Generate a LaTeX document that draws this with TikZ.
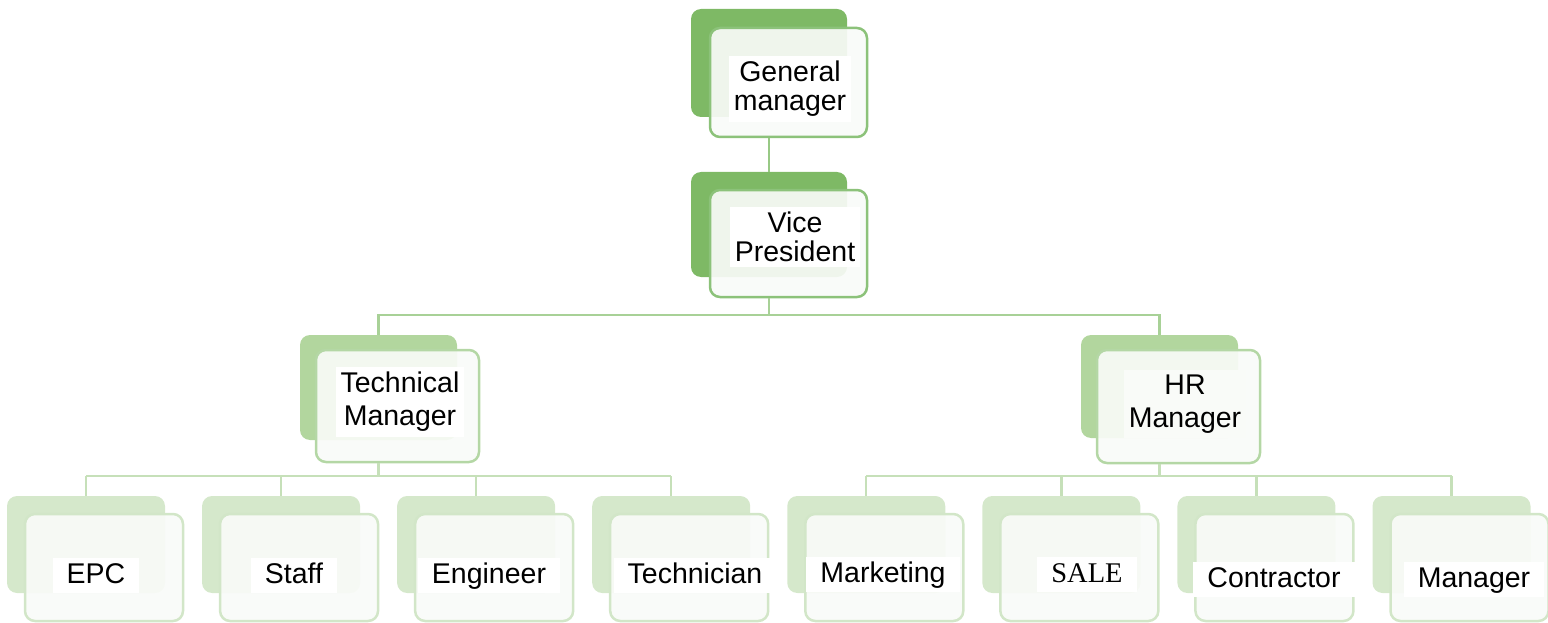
\documentclass[tikz,border=0pt]{standalone}
\usepackage{fontspec}
\setmainfont{Liberation Sans}
\newfontfamily\salefont{Liberation Serif}
\definecolor{backtop}{HTML}{7EB965}
\definecolor{backmid}{HTML}{B2D69E}
\definecolor{backlow}{HTML}{D5E8CB}
\definecolor{edgetop}{HTML}{8CC27A}
\definecolor{edgemid}{HTML}{B4D7A5}
\definecolor{edgelow}{HTML}{D2E6C8}
\definecolor{linktop}{HTML}{98C985}
\definecolor{linkmid}{HTML}{A8D197}
\definecolor{linklow}{HTML}{C6E0B9}
\definecolor{frontfill}{HTML}{F9FBF8}
\begin{document}
\begin{tikzpicture}[x=1pt,y=-1pt,
  backbox/.style={rectangle,rounded corners=10pt,inner sep=0pt,fill=#1},
  frontbox/.style={rectangle,rounded corners=10pt,inner sep=0pt,line width=2.5pt,draw=#1,fill=frontfill,fill opacity=0.92},
  lbl/.style={fill=white,text=black,inner xsep=5pt,inner ysep=5pt,align=center},
  link/.style={draw=#1,line width=2.3pt}]
\useasboundingbox (0,0) rectangle (1548,623);
\pgfmathsetmacro{\pitch}{195.07}
% top two levels
\node[backbox=backtop,minimum width=156pt,minimum height=108pt] (gmk) at (769,63) {};
\node[frontbox=edgetop,minimum width=157pt,minimum height=109pt] (gm) at (788.5,82.5) {};
\node[backbox=backtop,minimum width=156pt,minimum height=105pt] (vpk) at (769,224.5) {};
\node[frontbox=edgetop,minimum width=157pt,minimum height=107pt] (vp) at (788.5,243.5) {};
\node[lbl,font=\fontsize{28.5}{29}\selectfont] (gmt) at (790,89) {General\\manager};
\node[lbl,font=\fontsize{28.5}{29}\selectfont] (vpt) at (795,237) {Vice\\President};
% managers
\node[backbox=backmid,minimum width=157pt,minimum height=105pt] (tmk) at (378.5,387.5) {};
\node[frontbox=edgemid,minimum width=163pt,minimum height=112pt] (tm) at (397.5,406) {};
\node[backbox=backmid,minimum width=157pt,minimum height=103pt] (hrk) at (1159.5,386.5) {};
\node[frontbox=edgemid,minimum width=163pt,minimum height=113pt] (hr) at (1178.5,406.5) {};
\node[lbl,font=\fontsize{28.5}{33}\selectfont] (tmt) at (400,402) {Technical\\Manager};
\node[lbl,font=\fontsize{28.5}{33}\selectfont,fill=frontfill] (hrt) at (1185,404) {HR\\Manager};
% connectors
\coordinate (bus1) at (769,315);
\coordinate (bus2) at (378.5,476);
\coordinate (bus3) at (1159.5,476);
\draw[link=linktop] (gm.south -| gmk.center) -- (vpk.north);
\draw[link=linkmid] (vp.south -| vpk.center) -- (bus1);
\draw[link=linkmid] (tmk.north) |- (bus1) -| (hrk.north);
\draw[link=linklow] (tm.south -| tmk.center) -- (bus2);
\draw[link=linklow] (hr.south -| hrk.center) -- (bus3);
% bottom row
\foreach \i/\txt/\tx/\ty in {0/EPC/96/583,1/Staff/294/583,2/Engineer/489/583,
  3/Technician/695/583,4/Marketing/883/582,5/{\salefont SALE}/1087/582,
  6/Contractor/1274/587,7/Manager/1474/587}{
  \pgfmathsetmacro{\fx}{104+\pitch*\i}
  \draw[link=linklow] (\fx-18,496) -- (\fx-18,476);
  \node[backbox=backlow,minimum width=158pt,minimum height=97pt] (k\i) at (\fx-18,544.5) {};
  \node[frontbox=edgelow,minimum width=158pt,minimum height=107pt] (b\i) at (\fx,567.5) {};
  \node[lbl,anchor=base,text height=21pt,text depth=6pt,inner ysep=4pt,inner xsep=14pt,
    font=\fontsize{28.5}{30}\selectfont] (t\i) at (\tx,\ty) {\txt};
}
\draw[link=linklow] (k0.north |- bus2) -- (k3.north |- bus2);
\draw[link=linklow] (k4.north |- bus3) -- (k7.north |- bus3);
\end{tikzpicture}
\end{document}
